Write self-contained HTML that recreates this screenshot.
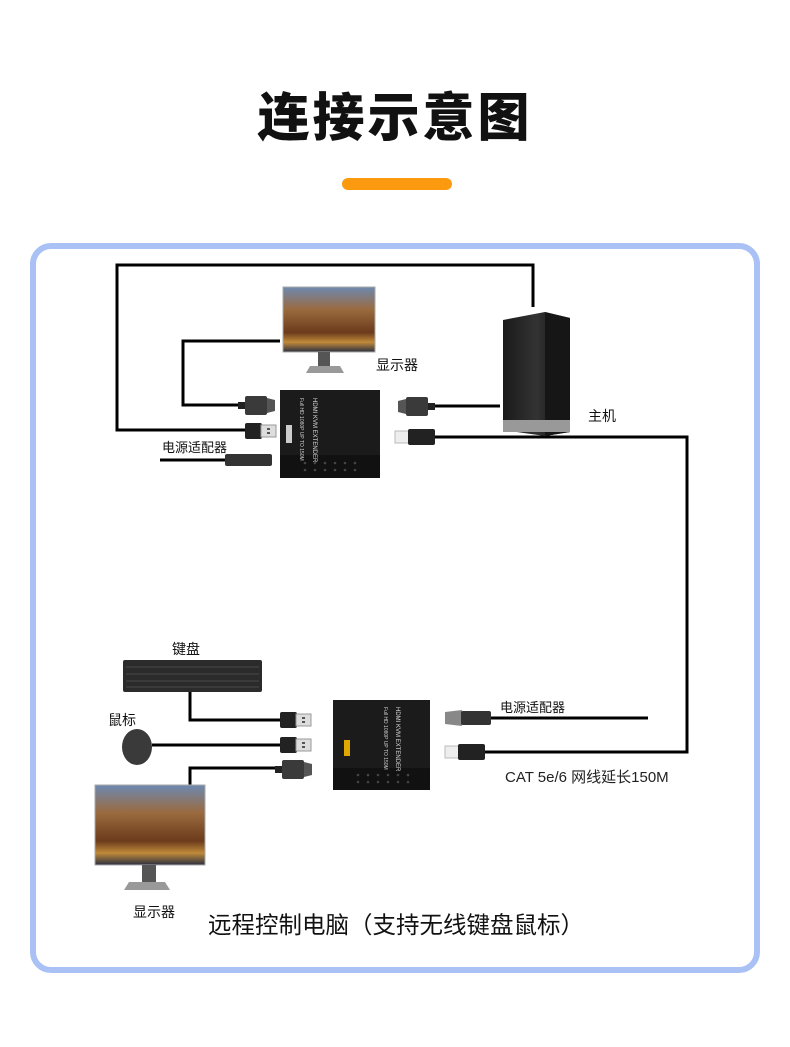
<!DOCTYPE html>
<html><head><meta charset="utf-8"><style>
html,body{margin:0;padding:0;background:#fff;}
svg{display:block;font-family:"Liberation Sans","Noto Sans CJK SC",sans-serif;}
</style></head><body>
<svg width="790" height="1047" viewBox="0 0 790 1047" xmlns="http://www.w3.org/2000/svg">
<defs>
<linearGradient id="scr" x1="0" y1="0" x2="0" y2="1">
<stop offset="0" stop-color="#6d89b0"/><stop offset="0.35" stop-color="#9a6a3e"/><stop offset="0.7" stop-color="#6b3b1c"/><stop offset="0.85" stop-color="#c08a3a"/><stop offset="1" stop-color="#2a2f40"/>
</linearGradient>
<linearGradient id="pc" x1="0" y1="0" x2="1" y2="0">
<stop offset="0" stop-color="#1a1a1a"/><stop offset="0.5" stop-color="#333"/><stop offset="1" stop-color="#0c0c0c"/>
</linearGradient>
<g id="usb"><rect x="0" y="0" width="17" height="16" rx="2" fill="#222"/><rect x="16" y="2" width="15" height="12" fill="#ddd" stroke="#999"/><rect x="22" y="5" width="3" height="2" fill="#555"/><rect x="22" y="9" width="3" height="2" fill="#555"/></g>
<g id="hdmi"><rect x="0" y="6" width="8" height="7" fill="#222"/><rect x="7" y="0" width="22" height="19" rx="2" fill="#3a3a3a"/><path d="M29 2 L37 4 L37 15 L29 17Z" fill="#555"/></g>
<g id="rj"><rect x="0" y="2" width="14" height="12" fill="#eee" stroke="#bbb"/><rect x="13" y="0" width="27" height="16" rx="2" fill="#222"/></g>
</defs>
<rect width="790" height="1047" fill="#fff"/>
<text x="395" y="136" text-anchor="middle" font-size="52" font-weight="900" fill="#111" letter-spacing="3">连接示意图</text>
<rect x="342" y="178" width="110" height="12" rx="6" fill="#fb9a0f"/>
<rect x="33" y="246" width="724" height="724" rx="18" fill="#fff" stroke="#a9c1f5" stroke-width="6"/>

<g fill="none" stroke="#000" stroke-width="3">
<polyline points="533,307 533,265 117,265 117,430 245,430"/>
<polyline points="280,341 183,341 183,405 240,405"/>
<line x1="160" y1="460" x2="225" y2="460"/>
<line x1="430" y1="406" x2="500" y2="406"/>
<polyline points="435,437 687,437 687,752 485,752"/>
<polyline points="190,692 190,720 282,720"/>
<line x1="152" y1="745" x2="282" y2="745"/>
<polyline points="190,797 190,768 278,768"/>
<line x1="490" y1="718" x2="648" y2="718"/>
</g>

<rect x="283" y="287" width="92" height="65" fill="url(#scr)" stroke="#aaa"/>
<rect x="318" y="352" width="12" height="14" fill="#555"/>
<path d="M306 373 L344 373 L340 366 L310 366Z" fill="#999"/>
<text x="376" y="370" font-size="14" fill="#111">显示器</text>

<rect x="280" y="390" width="100" height="88" fill="#1b1b1b"/>
<rect x="280" y="455" width="100" height="23" fill="#111"/>
<g fill="#444"><circle cx="305" cy="463" r="1.3"/><circle cx="315" cy="463" r="1.3"/><circle cx="325" cy="463" r="1.3"/><circle cx="335" cy="463" r="1.3"/><circle cx="345" cy="463" r="1.3"/><circle cx="355" cy="463" r="1.3"/><circle cx="305" cy="470" r="1.3"/><circle cx="315" cy="470" r="1.3"/><circle cx="325" cy="470" r="1.3"/><circle cx="335" cy="470" r="1.3"/><circle cx="345" cy="470" r="1.3"/><circle cx="355" cy="470" r="1.3"/></g>
<rect x="286" y="425" width="6" height="18" fill="#ccc"/>
<text transform="translate(313,398) rotate(90)" font-size="6" fill="#ddd">HDMI KVM EXTENDER</text>
<text transform="translate(300,398) rotate(90)" font-size="5" fill="#ccc">Full HD 1080P UP TO 150M</text>

<use href="#hdmi" x="238" y="396"/>
<use href="#usb" x="245" y="423"/>
<rect x="225" y="454" width="47" height="12" rx="2" fill="#333"/>
<text x="162" y="452" font-size="13" fill="#111">电源适配器</text>
<g transform="translate(435,397) scale(-1,1)"><use href="#hdmi"/></g>
<use href="#rj" x="395" y="429"/>

<path d="M503 320 L545 312 L570 318 L570 432 L545 436 L503 430Z" fill="url(#pc)"/>
<path d="M545 312 L570 318 L570 432 L545 436Z" fill="#161616"/>
<rect x="503" y="420" width="67" height="12" fill="#999"/>
<text x="588" y="421" font-size="14" fill="#111">主机</text>

<rect x="123" y="660" width="139" height="32" rx="2" fill="#2b2b2b"/>
<g stroke="#555" stroke-width="0.8">
<line x1="126" y1="667" x2="259" y2="667"/><line x1="126" y1="674" x2="259" y2="674"/><line x1="126" y1="681" x2="259" y2="681"/><line x1="126" y1="687" x2="259" y2="687"/></g>
<text x="172" y="654" font-size="14" fill="#111">键盘</text>
<text x="108" y="725" font-size="14" fill="#111">鼠标</text>
<ellipse cx="137" cy="747" rx="15" ry="18" fill="#3a3a3a"/>
<use href="#usb" x="280" y="712"/>
<use href="#usb" x="280" y="737"/>
<use href="#hdmi" x="275" y="760"/>

<rect x="95" y="785" width="110" height="80" fill="url(#scr)" stroke="#aaa"/>
<rect x="142" y="865" width="14" height="17" fill="#555"/>
<path d="M124 890 L170 890 L165 882 L129 882Z" fill="#999"/>
<text x="133" y="917" font-size="14" fill="#111">显示器</text>

<rect x="333" y="700" width="97" height="90" fill="#1b1b1b"/>
<rect x="333" y="768" width="97" height="22" fill="#111"/>
<g fill="#444"><circle cx="358" cy="775" r="1.3"/><circle cx="368" cy="775" r="1.3"/><circle cx="378" cy="775" r="1.3"/><circle cx="388" cy="775" r="1.3"/><circle cx="398" cy="775" r="1.3"/><circle cx="408" cy="775" r="1.3"/><circle cx="358" cy="782" r="1.3"/><circle cx="368" cy="782" r="1.3"/><circle cx="378" cy="782" r="1.3"/><circle cx="388" cy="782" r="1.3"/><circle cx="398" cy="782" r="1.3"/><circle cx="408" cy="782" r="1.3"/></g>
<rect x="344" y="740" width="6" height="16" fill="#e0a800"/>
<text transform="translate(396,707) rotate(90)" font-size="6" fill="#ddd">HDMI KVM EXTENDER</text>
<text transform="translate(384,707) rotate(90)" font-size="5" fill="#ccc">Full HD 1080P UP TO 150M</text>
<path d="M445 712 L462 710 L462 726 L445 724Z" fill="#888"/>
<rect x="461" y="711" width="30" height="14" rx="2" fill="#333"/>
<text x="500" y="712" font-size="13" fill="#111">电源适配器</text>
<use href="#rj" x="445" y="744"/>
<text x="505" y="782" font-size="15" fill="#222">CAT 5e/6 网线延长150M</text>

<text x="208" y="933" font-size="23.5" fill="#111">远程控制电脑（支持无线键盘鼠标）</text>
</svg>
</body></html>
